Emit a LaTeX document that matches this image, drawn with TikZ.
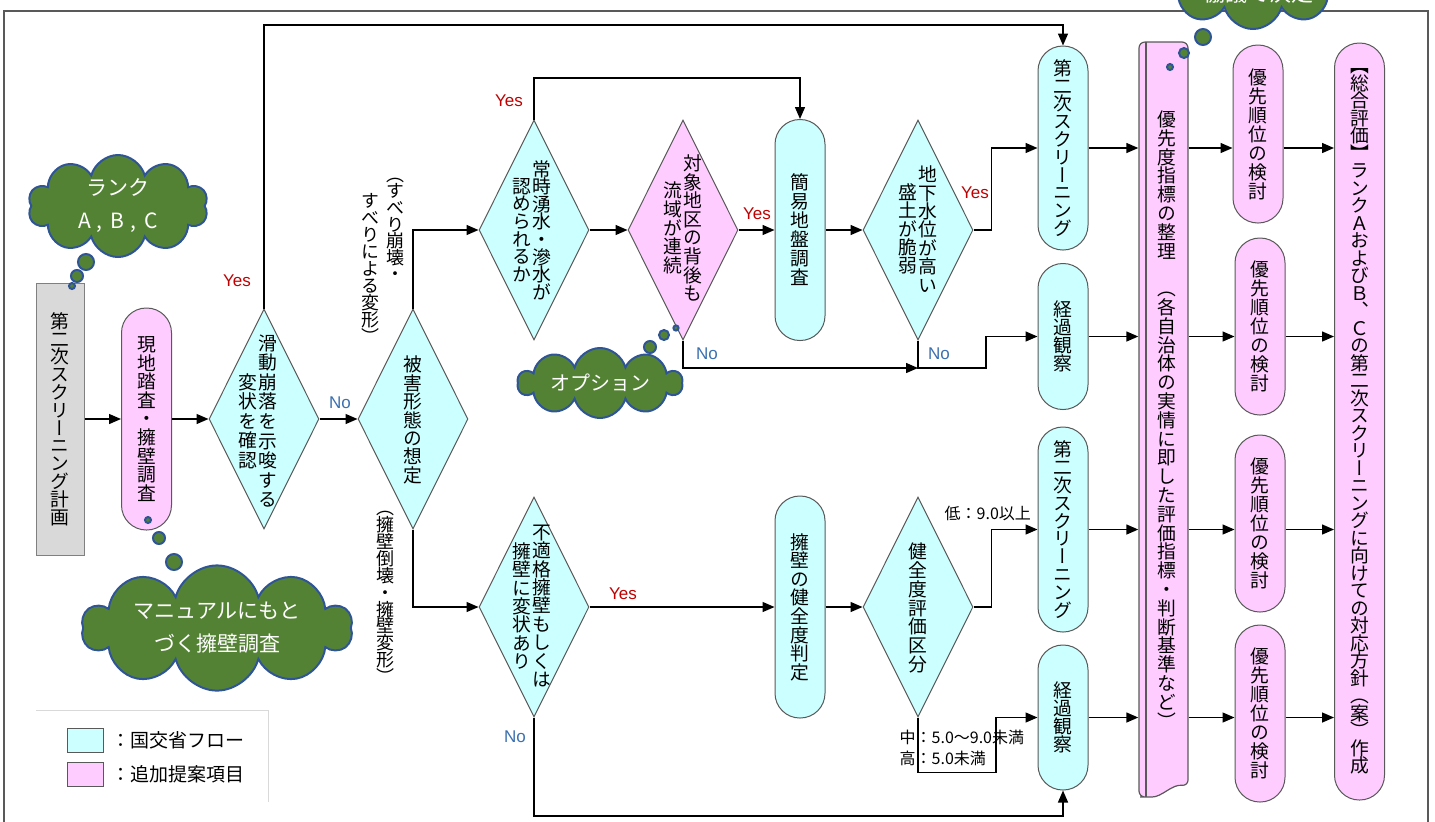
\documentclass[tikz,border=0pt]{standalone}
\usepackage{fontspec}
\setmainfont{Noto Sans CJK JP}
\newfontfamily\tatefont[RawFeature=+vert]{Noto Sans CJK JP}
\newfontfamily\yesnofont{Liberation Sans}
\usepackage{tikz}
\usetikzlibrary{arrows.meta,shapes.geometric,shapes.symbols,positioning}

\definecolor{flowcyan}{HTML}{CCFFFF}
\definecolor{addpink}{HTML}{FFCCFF}
\definecolor{plangray}{HTML}{D9D9D9}
\definecolor{edgegray}{HTML}{595959}
\definecolor{cloudgreen}{HTML}{548235}
\definecolor{cloudblue}{HTML}{2F5597}
\definecolor{yesred}{HTML}{C00000}
\definecolor{noblue}{HTML}{3A70B0}

% vertical text: one character per line
\makeatletter
\newcommand\tate[2][9.3pt]{\vbox{\baselineskip=#1\lineskiplimit=-\maxdimen\lineskip=0pt\tate@#2\relax}}
\def\tate@#1{\ifx#1\relax\else\hbox to 1em{\hss#1\hss}\expandafter\tate@\fi}
\makeatother
\newcommand\tatepair[3][9.3pt]{$\vcenter{\tate[#1]{#3}}\kern0.6pt\vcenter{\tate[#1]{#2}}$}
\newcommand\tsp{\kern1em}

\begin{document}
\begin{tikzpicture}[
    x = 0.5pt, y = -0.5pt, % one unit = one pixel, y downwards
    > = {Triangle[length=6pt,width=5pt]}, % arrow head style
    line width = 0.7pt
    ]

    \tikzset{
    box/.style = {rectangle, draw=edgegray, line width=0.5pt, inner sep=0pt,
        minimum width=25pt, font=\fontsize{9.4pt}{9pt}\tatefont},
    cyanbox/.style = {box, rounded corners=12.4pt, fill=flowcyan},
    pinkbox/.style = {box, rounded corners=12.4pt, fill=addpink},
    planbox/.style = {box, draw=gray, fill=plangray, minimum width=24pt},
    decision/.style = {diamond, draw=edgegray, line width=0.5pt, fill=flowcyan,
        minimum width=55pt, minimum height=110pt, inner sep=0pt},
    tatetext/.style = {inner sep=0pt, font=\fontsize{9.4pt}{9pt}\tatefont},
    tatelabel/.style = {inner sep=0pt, font=\fontsize{9pt}{9pt}\tatefont},
    yes/.style = {text=yesred, font=\fontsize{8.5pt}{10pt}\yesnofont},
    no/.style = {text=noblue, font=\fontsize{8.5pt}{10pt}\yesnofont},
    gradetext/.style = {inner sep=0pt, anchor=west, font=\fontsize{8pt}{10pt}\selectfont},
    cloudy/.style = {cloud, cloud puffs=10, cloud ignores aspect, draw=cloudblue,
        line width=1pt, fill=cloudgreen, text=white, inner sep=0pt, align=center,
        font=\fontsize{10.5pt}{16.5pt}\selectfont},
    puff/.style = {draw=cloudblue, line width=1pt, fill=cloudgreen},
    legendkey/.style = {rectangle, draw=edgegray, line width=0.5pt,
        minimum width=18pt, minimum height=12pt, inner sep=0pt},
    legendtext/.style = {inner sep=0pt, font=\fontsize{9.5pt}{10pt}\selectfont}
    }

    \useasboundingbox (0,0) rectangle (1435,821);
    \clip (0,0) rectangle (1435,821);
    \draw[edgegray, line width=0.6pt] (4,11) rectangle (1428,840);

    % left part
    \node[planbox, minimum height=136pt] (plan) at (60,419) {\tate[8.9pt]{第二次スクリーニング計画}};
    \node[pinkbox, minimum height=111pt] (survey) at (146.5,419) {\tate{現地踏査・擁壁調査}};
    \node[decision] (chk) at (264,419) {};
    \node[tatetext] (chkText) at (258,421) {\tatepair[9.8pt]{滑動崩落を示唆する}{変状を確認}};
    \node[decision] (dmg) at (413,419) {};
    \node[tatetext] (dmgText) at (413,420) {\tate[9.2pt]{被害形態の想定}};

    % upper branch
    \node[decision] (spring) at (534,230) {};
    \node[tatetext] (springText) at (532,230) {\tatepair[8.8pt]{常時湧水・滲水が}{認められるか}};
    \node[decision, fill=addpink] (basin) at (683,230) {};
    \node[tatetext] (basinText) at (683,228) {\tatepair[9.3pt]{対象地区の背後も}{流域が連続}};
    \node[cyanbox, minimum height=110.5pt] (simple) at (800,230) {\tate[9.5pt]{簡易地盤調査}};
    \node[decision] (gw) at (918,230) {};
    \node[tatetext] (gwText) at (918,229) {\tatepair[9.2pt]{地下水位が高い}{盛土が脆弱}};
    \node[cyanbox, minimum height=102pt] (scrA) at (1063,148) {\tate[8.9pt]{第二次スクリーニング}};
    \node[cyanbox, minimum height=73pt] (watchA) at (1063,336.5) {\tate[9pt]{経過観察}};

    % lower branch
    \node[decision] (wall) at (534,607) {};
    \node[tatetext] (wallText) at (532,606) {\tatepair[9.2pt]{不適格擁壁もしくは}{擁壁に変状あり}};
    \node[cyanbox, minimum height=111pt] (health) at (800,607) {\tate[9.3pt]{擁壁の健全度判定}};
    \node[decision] (grade) at (918,607) {};
    \node[tatetext] (gradeText) at (918,608) {\tate[9.4pt]{健全度評価区分}};
    \node[cyanbox, minimum height=102.5pt] (scrB) at (1063,529.5) {\tate[8.9pt]{第二次スクリーニング}};
    \node[cyanbox, minimum height=72.5pt] (watchB) at (1063,717.5) {\tate[9pt]{経過観察}};

    % right part
    \draw[draw=edgegray, line width=0.6pt, fill=addpink, rounded corners=3pt]
        (1139,797) -- (1139,42) -- (1188,42) -- (1188,786)
        .. controls (1172,784) and (1162,797) .. (1146,797) -- cycle;
    \draw[edgegray, line width=0.6pt] (1146,42) -- (1146,797);
    \node[tatetext, minimum width=24.5pt, minimum height=378pt] (prio) at (1163.5,419.5)
        {\kern3.5pt\tate[9.4pt]{優先度指標の整理\tsp（各自治体の実情に即した評価指標・判断基準など）}};
    \node[pinkbox, minimum height=89pt] (rank1) at (1258,134) {\tate[9.5pt]{優先順位の検討}};
    \node[pinkbox, minimum height=88.5pt] (rank2) at (1260,326.5) {\tate[9.5pt]{優先順位の検討}};
    \node[pinkbox, minimum height=88.5pt] (rank3) at (1260,523.5) {\tate[9.5pt]{優先順位の検討}};
    \node[pinkbox, minimum height=88.5pt] (rank4) at (1260,713.5) {\tate[9.5pt]{優先順位の検討}};
    \node[pinkbox, minimum height=378.5pt] (sogo) at (1359.5,421.5)
        {\tate[8.75pt]{【総合評価】ランクＡおよびＢ、Ｃの第二次スクリーニングに向けての対応方針（案）作成}};

    % labels
    \node[tatelabel] (slideA) at (395,229.5) {\tate[8.3pt]{（すべり崩壊・}};
    \node[tatelabel] (slideB) at (370,268) {\tate[8.5pt]{すべりによる変形）}};
    \node[tatelabel] (wallLbl) at (385,597.5) {\tate[8.45pt]{（擁壁倒壊・擁壁変形）}};
    \node[yes] (yes1) at (237,281) {Yes};
    \node[yes] (yes2) at (509,101) {Yes};
    \node[yes] (yes3) at (757,214) {Yes};
    \node[yes] (yes4) at (975,193) {Yes};
    \node[yes] (yes5) at (623,594) {Yes};
    \node[no] (no1) at (340,403) {No};
    \node[no] (no2) at (707,354) {No};
    \node[no] (no3) at (939,354) {No};
    \node[no] (no4) at (515,737) {No};
    \node[gradetext] (low) at (944,513) {低：9.0以上};
    \node[gradetext] (mid) at (899,737) {中：5.0～9.0未満};
    \node[gradetext] (high) at (899,758) {高：5.0未満};

    % connectors
    \coordinate (topRail) at (0,25);
    \coordinate (yesRail) at (0,78);
    \coordinate (noRail) at (0,368);
    \coordinate (noStep) at (986,368);
    \coordinate (bottomRail) at (0,816);

    \draw[->] (plan.east) -- (survey.west);
    \draw[->] (survey.east) -- (chk.west);
    \draw[->] (chk.east) -- (dmg.west);
    \draw[->] (chk.north) -- (chk.north |- topRail) -| (scrA.north);
    \draw[->] (dmg.north) |- (spring.west);
    \draw[->] (dmg.south) |- (wall.west);

    \draw[->] (spring.east) -- (basin.west);
    \draw[->] (spring.north) -- (spring.north |- yesRail) -| (simple.north);
    \draw[->] (basin.east) -- (simple.west);
    \draw[->] (basin.south) |- (gw.south |- noRail);
    \draw[->] (simple.east) -- (gw.west);
    \draw[->] (gw.east) -- ++(18,0) |- (scrA.west);
    \draw[->] (gw.south) |- (noStep) |- (watchA.west);

    \draw[->] (wall.east) -- (health.west);
    \draw[->] (wall.south) |- (watchB.south |- bottomRail) -- (watchB.south);
    \draw[->] (health.east) -- (grade.west);
    \draw[->] (grade.east) -- ++(18,0) |- (scrB.west);
    \draw[->] (grade.south) -- ++(0,55) -- ++(78,0) |- (watchB.west);

    \foreach \src/\dst in {scrA/rank1, watchA/rank2, scrB/rank3, watchB/rank4} {
        \draw[->] (\src.east) -- (\src.east -| prio.west);
        \draw[->] (prio.east |- \src.east) -- (\dst.west |- \src.east);
        \draw[->] (\dst.east |- \src.east) -- (sogo.west |- \src.east);
    }

    % legend
    \draw[plangray, line width=0.5pt] (36,710) -- (268,710) -- (268,802);
    \node[legendkey, fill=flowcyan] (keyFlow) at (85,740) {};
    \node[legendkey, fill=addpink] (keyAdd) at (85,774.5) {};
    \node[legendtext, right=3.5pt of keyFlow] (keyFlowText) {：国交省フロー};
    \node[legendtext, right=3.5pt of keyAdd] (keyAddText) {：追加提案項目};

    % clouds
    \node[cloudy, minimum width=90pt, minimum height=51pt] (rankCloud) at (118,206)
        {ランク\\A\kern3pt,\kern4pt B\kern3pt,\kern4pt C};
    \foreach \x/\y/\r in {86/262/4, 77/276/3, 72/286/1.5}
        \draw[puff] (\x,\y) circle[radius=\r pt];
    \node[cloudy, minimum width=135pt, minimum height=50pt] (manualCloud) at (217,628) {マニュアルにもと\\づく擁壁調査};
    \foreach \x/\y/\r in {148/520/1.5, 159/538/3, 174/562/4}
        \draw[puff] (\x,\y) circle[radius=\r pt];
    \node[cloudy, minimum width=82pt, minimum height=35pt, font=\fontsize{10pt}{12pt}\selectfont] (optCloud) at (600,383) {オプション};
    \foreach \x/\y/\r in {676/328/1.3, 664/335/2.5, 650/347/3}
        \draw[puff] (\x,\y) circle[radius=\r pt];
    \node[cloudy, minimum width=96pt, minimum height=54pt] (agreeCloud) at (1253,-25) {};
    \node[text=white, font=\fontsize{11pt}{12pt}\selectfont] (agreeText) at (1258,-7) {協議で決定};
    \foreach \x/\y/\r in {1203/37/4, 1184/53/2.5, 1170/67/1.5}
        \draw[puff] (\x,\y) circle[radius=\r pt];
\end{tikzpicture}
\end{document}
